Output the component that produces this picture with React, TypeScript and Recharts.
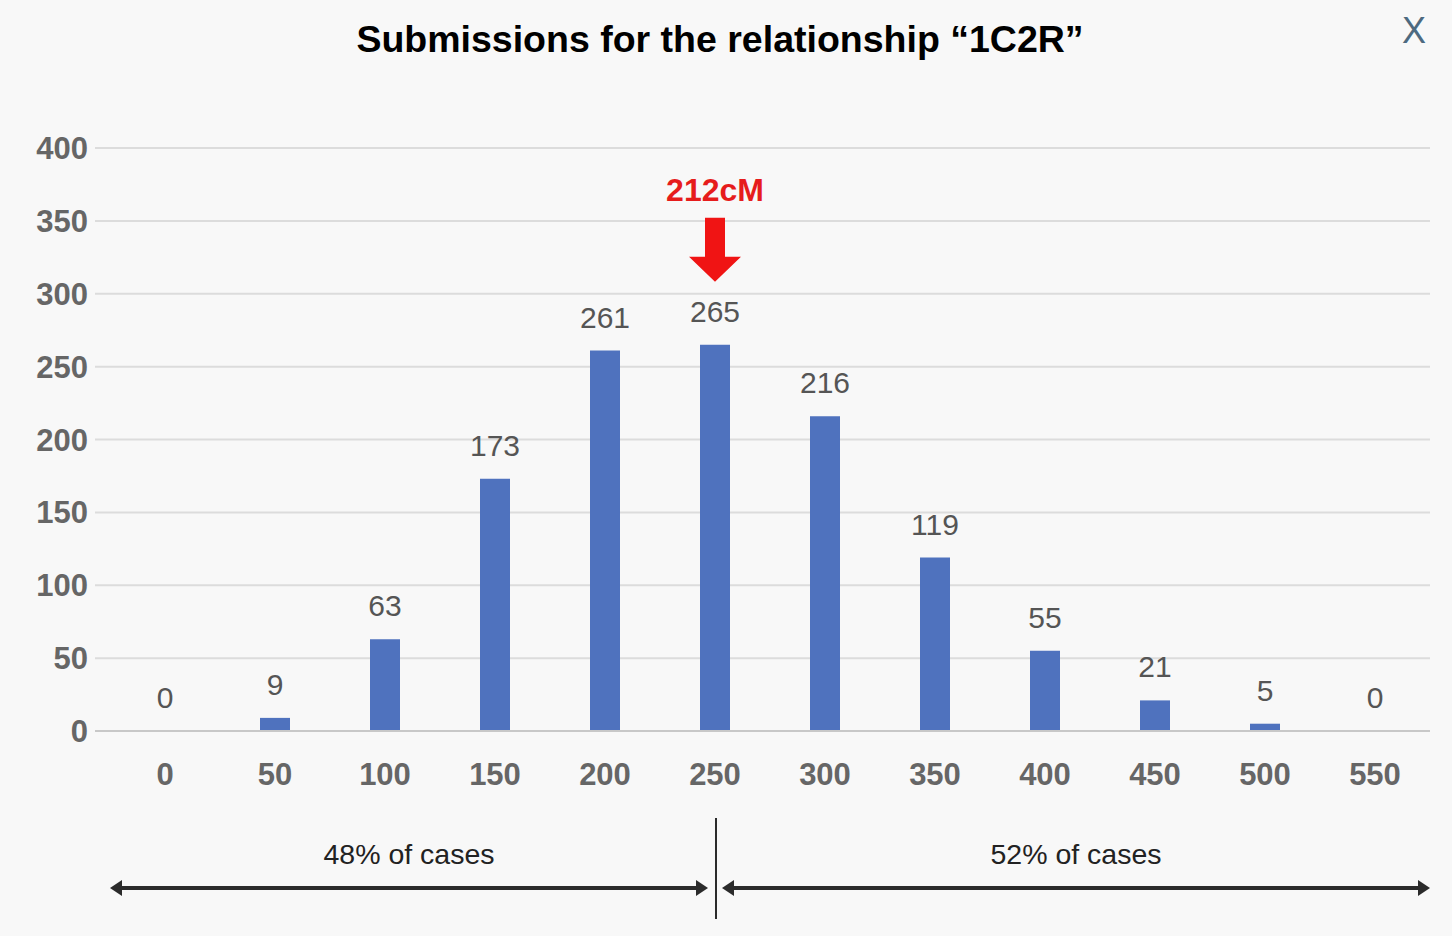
import { Bar, CartesianGrid, ComposedChart, LabelList, Line, ReferenceLine, XAxis, YAxis } from "recharts";

const bins = ["0", "50", "100", "150", "200", "250", "300", "350", "400", "450", "500", "550"];
const submissions = [0, 9, 63, 173, 261, 265, 216, 119, 55, 21, 5, 0];
const yTicks = [0, 50, 100, 150, 200, 250, 300, 350, 400];

const markerBin = "250";
const markerLabel = "212cM";
const splitLabels = ["48% of cases", "52% of cases"];

const data = bins.map((b, i) => ({ bin: b, count: submissions[i] }));

const FONT = "'Liberation Sans', Arial, Helvetica, sans-serif";
const PLOT_LEFT = 110;
const PLOT_RIGHT = 1430;

// label sits on the (invisible) line point, so zero bins get one too
const ValueLabel = (props: any) => {
	const { x, y, value, index } = props;
	const showMarker = bins[index] === markerBin;
	return (
		<g>
			<text x={x} y={y - 23} textAnchor="middle" fill="#555" fontSize={30} fontFamily={FONT}>
				{value}
			</text>
			{showMarker && (
				<g>
					<text x={x} y={y - 144} textAnchor="middle" fill="#e61c1c" fontSize={32} fontWeight="bold" fontFamily={FONT}>
						{markerLabel}
					</text>
					<polygon
						points={`${x - 10},${y - 127} ${x + 10},${y - 127} ${x + 10},${y - 88} ${x + 26},${y - 88} ${x},${y - 63} ${x - 26},${y - 88} ${x - 10},${y - 88}`}
						fill="#f01414"
					/>
				</g>
			)}
		</g>
	);
};

const SplitMarks = (props: any) => {
	const { viewBox } = props;
	const cx = viewBox.x + 1;
	const bottom = viewBox.y + viewBox.height;
	const ay = bottom + 157;
	const leftEnd = cx - 8;
	const rightStart = cx + 6;
	const head = (tip: number, dir: number) =>
		`${tip},${ay} ${tip - dir * 12},${ay - 8} ${tip - dir * 12},${ay + 8}`;
	return (
		<g>
			<line x1={cx} x2={cx} y1={bottom + 87} y2={bottom + 188} stroke="#2b2b2b" strokeWidth={2} />
			<line x1={PLOT_LEFT + 6} x2={leftEnd - 6} y1={ay} y2={ay} stroke="#2b2b2b" strokeWidth={4} />
			<polygon points={head(PLOT_LEFT, -1)} fill="#2b2b2b" />
			<polygon points={head(leftEnd, 1)} fill="#2b2b2b" />
			<line x1={rightStart + 6} x2={PLOT_RIGHT - 6} y1={ay} y2={ay} stroke="#2b2b2b" strokeWidth={4} />
			<polygon points={head(rightStart, -1)} fill="#2b2b2b" />
			<polygon points={head(PLOT_RIGHT, 1)} fill="#2b2b2b" />
			<text x={(PLOT_LEFT + leftEnd) / 2} y={bottom + 133} textAnchor="middle" fill="#222" fontSize={28.5} fontFamily={FONT}>
				{splitLabels[0]}
			</text>
			<text x={(rightStart + PLOT_RIGHT) / 2} y={bottom + 133} textAnchor="middle" fill="#222" fontSize={28.5} fontFamily={FONT}>
				{splitLabels[1]}
			</text>
		</g>
	);
};

const App = () => {
	return (
		<div style={{ position: "absolute", left: 0, top: 0, width: 1452, height: 936, background: "#f8f8f8", fontFamily: FONT }}>
			<div style={{ position: "absolute", left: 0, top: 18, width: 1440, textAlign: "center", fontSize: 37.5, fontWeight: "bold", color: "#000" }}>
				Submissions for the relationship “1C2R”
			</div>
			<div style={{ position: "absolute", left: 1402, top: 10, fontSize: 36, color: "#4d6a80" }}>X</div>
			<div style={{ position: "absolute", left: 0, top: 0 }}>
				<ComposedChart width={1452} height={936} data={data} margin={{ top: 148, right: 22, bottom: 145, left: 0 }}>
					<CartesianGrid vertical={false} stroke="#dcdcdc" strokeWidth={2} />
					<XAxis
						dataKey="bin"
						height={60}
						padding={{ left: 15, right: 0 }}
						tickLine={false}
						tickSize={0}
						tickMargin={32}
						axisLine={{ stroke: "#c8c8c8", strokeWidth: 2 }}
						tick={{ fill: "#666", fontSize: 31, fontWeight: "bold", fontFamily: FONT }}
						interval={0}
					/>
					<YAxis
						width={95}
						domain={[0, 400]}
						ticks={yTicks}
						axisLine={false}
						tickLine={false}
						tickSize={0}
						tickMargin={7}
						tick={{ fill: "#666", fontSize: 31, fontWeight: "bold", fontFamily: FONT }}
					/>
					<Bar dataKey="count" fill="#4f72be" barSize={30} isAnimationActive={false} />
					<Line dataKey="count" stroke="none" dot={false} activeDot={false} isAnimationActive={false}>
						<LabelList dataKey="count" content={(p: any) => <ValueLabel {...p} />} />
					</Line>
					<ReferenceLine x={markerBin} stroke="none" label={(p: any) => <SplitMarks {...p} />} />
				</ComposedChart>
			</div>
		</div>
	);
};

export default App;
